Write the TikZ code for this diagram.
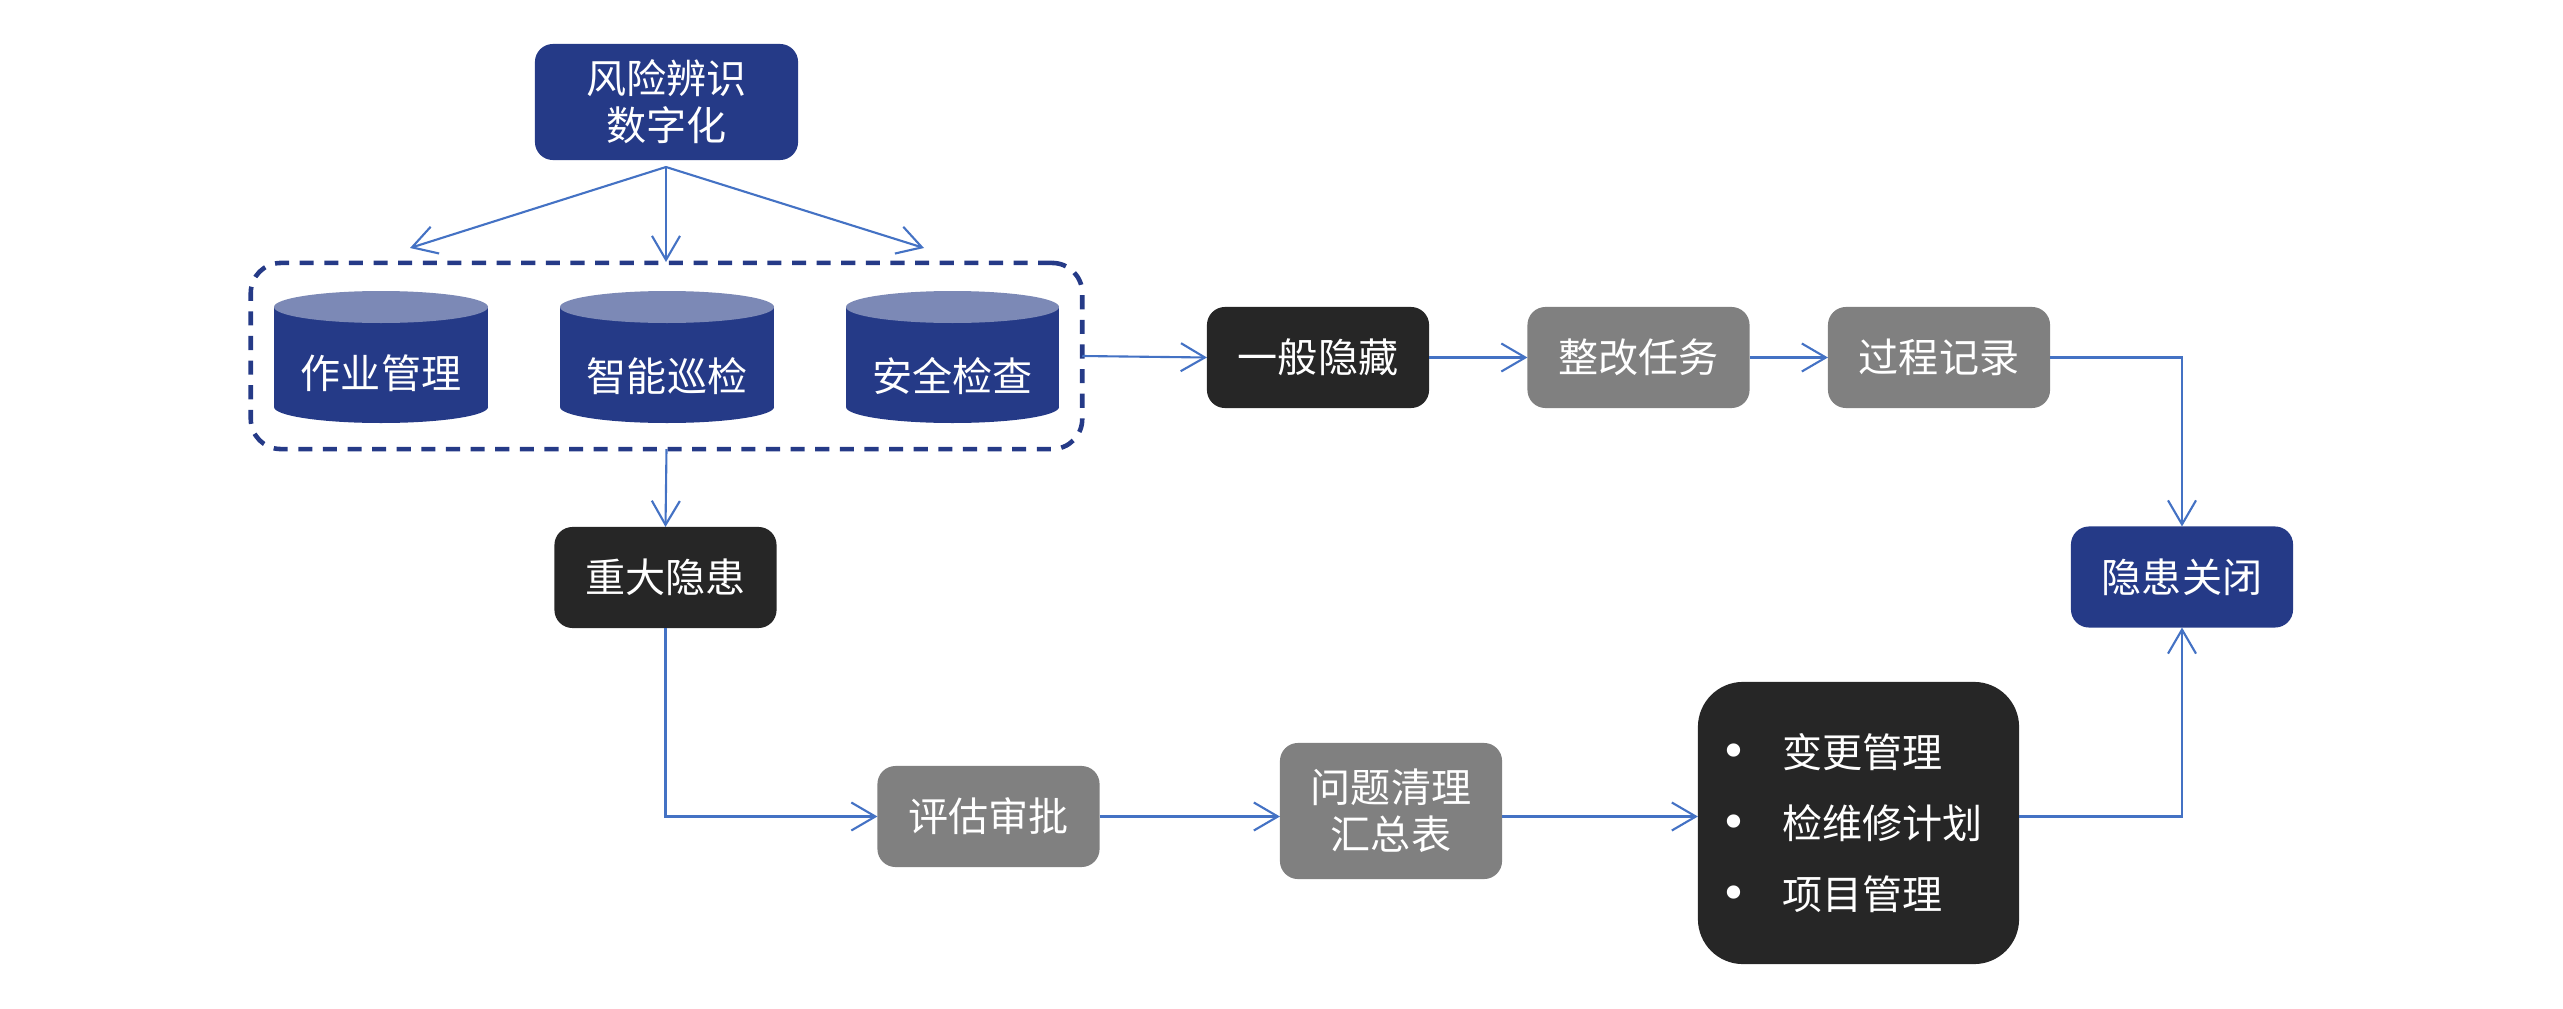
\documentclass[tikz,border=0pt]{standalone}
\usepackage{fontspec}
\newfontfamily\cjk{Noto Sans CJK SC}
\newfontfamily\dejavu{DejaVu Sans}
\usetikzlibrary{arrows.meta,calc}
\definecolor{navy}{RGB}{37,58,135}
\definecolor{cyltop}{RGB}{124,137,182}
\definecolor{dark}{RGB}{38,38,38}
\definecolor{midgray}{RGB}{128,128,128}
\definecolor{lineblue}{RGB}{68,114,196}
\newcommand{\bul}{\makebox[0pt]{{\dejavu\fontsize{13pt}{13pt}\selectfont •}}\hspace{0.48cm}}
\tikzset{
  box/.style={rounded corners=0.18cm, inner sep=0pt, outer sep=0pt, text=white,
    font=\cjk\fontsize{11.4pt}{13.4pt}\selectfont, align=center,
    minimum width=2.22cm, minimum height=1.01cm},
  navybox/.style={box, fill=navy},
  blackbox/.style={box, fill=dark},
  graybox/.style={box, fill=midgray},
  cyltext/.style={inner sep=0pt, text=white, font=\cjk\fontsize{11.4pt}{13.4pt}\selectfont},
  conn/.style={draw=lineblue, line width=0.6pt, -{Straight Barb[length=0.24cm,width=0.28cm]}},
  groupbox/.style={draw=navy, line width=1.3pt, dash pattern=on 4pt off 3pt,
    rounded corners=0.3cm, inner sep=0pt, outer sep=0pt,
    minimum width=8.31cm, minimum height=1.86cm}
}
\begin{document}
\begin{tikzpicture}[x=0.01cm,y=-0.01cm]
\useasboundingbox (0,0) rectangle (2563,1009);

% top node
\node[navybox, minimum width=2.63cm, minimum height=1.16cm] (risk) at (666.5,102) {风险辨识\\数字化};

% group of cylinders
\node[groupbox] (group) at (666.5,356) {};

% cylinder 1
\fill[navy] (274,307) rectangle (488,407);
\fill[navy] (381,407) ellipse [x radius=107, y radius=16];
\fill[cyltop] (381,307) ellipse [x radius=107, y radius=16];
\node[cyltext] (cyl1) at (381,373) {作业管理};
% cylinder 2
\fill[navy] (560,307) rectangle (774,407);
\fill[navy] (667,407) ellipse [x radius=107, y radius=16];
\fill[cyltop] (667,307) ellipse [x radius=107, y radius=16];
\node[cyltext] (cyl2) at (667,376) {智能巡检};
% cylinder 3
\fill[navy] (846,307) rectangle (1059,407);
\fill[navy] (952.5,407) ellipse [x radius=106.5, y radius=16];
\fill[cyltop] (952.5,307) ellipse [x radius=106.5, y radius=16];
\node[cyltext] (cyl3) at (952.5,376) {安全检查};

% fan arrows
\coordinate (fan) at (666,167);
\coordinate (t1) at (410,248);
\coordinate (t2) at (666,262);
\coordinate (t3) at (924,248);
\draw[conn] (fan) -- (t1);
\draw[conn] (fan) -- (t2);
\draw[conn] (fan) -- (t3);

% upper row
\node[blackbox] (general) at (1318,357.5) {一般隐藏};
\node[graybox] (rectify) at (1638.5,357.5) {整改任务};
\node[graybox] (record) at (1939,357.5) {过程记录};
\node[navybox] (close) at (2182,577) {隐患关闭};

% lower part
\node[blackbox] (major) at (665.5,577.5) {重大隐患};
\node[graybox] (assess) at (988.5,816.5) {评估审批};
\node[graybox, minimum height=1.36cm] (summary) at (1391,811) {问题清理\\汇总表};
\node[blackbox, rounded corners=0.45cm, minimum width=3.21cm, minimum height=2.82cm,
  align=left, font=\cjk\fontsize{11.4pt}{20.3pt}\selectfont] (plan) at (1858.5,823)
  {\bul 变更管理\\\bul 检维修计划\\\bul 项目管理};

% connectors
\draw[conn] (group.east) -- (general.west);
\draw[conn] (general.east) -- (rectify.west);
\draw[conn] (rectify.east) -- (record.west);
\draw[conn] (record.east) -| (close.north);
\draw[conn] (group.south) -- (major.north);
\draw[conn] (major.south) |- (assess.west);
\draw[conn] (assess.east) -- (assess.east -| summary.west);
\draw[conn] (assess.east -| summary.east) -- (assess.east -| plan.west);
\draw[conn] (assess.east -| plan.east) -| (close.south);
\end{tikzpicture}
\end{document}
